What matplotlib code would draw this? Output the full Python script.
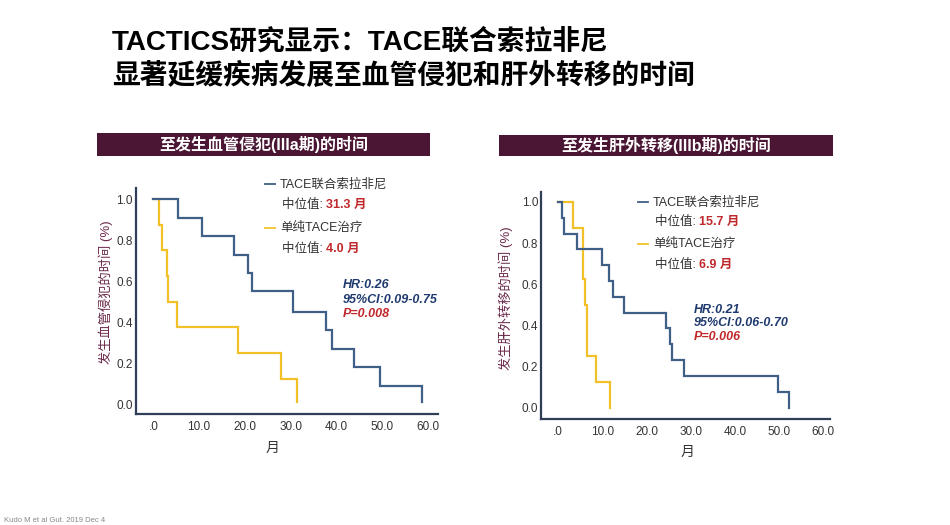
import matplotlib
matplotlib.use("Agg")
import matplotlib.pyplot as plt
from matplotlib.lines import Line2D
from matplotlib.patches import Rectangle

plt.rcParams['font.family'] = ['Liberation Sans', 'Noto Sans CJK SC', 'DejaVu Sans']

# --- data (months, survival fraction) ---
# left panel: time to vascular invasion
left_combo_t = [5.4, 10.7, 17.7, 20.7, 21.5, 30.5, 37.8, 39.1, 43.9, 49.5, 58.7]
left_combo_s = [0.91, 0.82, 0.73, 0.64, 0.55, 0.45, 0.36, 0.27, 0.18, 0.09, 0.01]
left_tace_t = [1.3, 1.8, 2.9, 3.3, 5.1, 18.5, 27.8, 31.4]
left_tace_s = [0.875, 0.75, 0.625, 0.5, 0.375, 0.25, 0.125, 0.01]

# right panel: time to extrahepatic spread
right_combo_t = [0.75, 1.3, 4.15, 10.0, 11.5, 12.5, 14.9, 24.4, 25.3, 25.7, 28.5, 49.7, 52.2]
right_combo_s = [0.923, 0.846, 0.769, 0.692, 0.615, 0.538, 0.462, 0.385, 0.308, 0.231, 0.154, 0.077, 0.0]
right_tace_t = [3.25, 5.6, 5.7, 6.0, 6.4, 6.6, 8.5, 11.8]
right_tace_s = [0.875, 0.75, 0.625, 0.5, 0.375, 0.25, 0.125, 0.0]

x_ticks = [0, 10, 20, 30, 40, 50, 60]
x_tick_labels = ['.0', '10.0', '20.0', '30.0', '40.0', '50.0', '60.0']
y_ticks = [0.0, 0.2, 0.4, 0.6, 0.8, 1.0]
y_tick_labels = ['0.0', '0.2', '0.4', '0.6', '0.8', '1.0']

panel_titles = ['至发生血管侵犯(IIIa期)的时间', '至发生肝外转移(IIIb期)的时间']
y_labels = ['发生血管侵犯的时间 (%)', '发生肝外转移的时间 (%)']
medians_combo = ['31.3 月', '15.7 月']
medians_tace = ['4.0 月', '6.9 月']
hr_text = ['HR:0.26', 'HR:0.21']
ci_text = ['95%CI:0.09-0.75', '95%CI:0.06-0.70']
p_text = ['P=0.008', 'P=0.006']

BLUE = '#3f5f86'
YELLOW = '#f2c12a'
NAVY = '#1f3a6e'
RED = '#c0282b'
BAR = '#4a1633'
SPINE = '#2d3e56'

W, H = 950, 525
fig = plt.figure(figsize=(9.5, 5.25), dpi=100)


def fx(px):
    return px / W


def fy(py):
    return 1 - py / H


def km_curve(ax, t, s, color):
    ax.plot([0] + t, [1.0] + s, drawstyle='steps-post', color=color, lw=1.6,
            solid_joinstyle='miter')


# main title
fig.text(fx(112), fy(42), 'TACTICS研究显示：TACE联合索拉非尼', fontsize=20,
         fontweight='bold', va='center', ha='left', color='black')
fig.text(fx(112), fy(76), '显著延缓疾病发展至血管侵犯和肝外转移的时间', fontsize=20,
         fontweight='bold', va='center', ha='left', color='black')

panels = [
    dict(ax=[135.7, 188, 438, 414], xlim=(-3.85, 62.2), ylim=(-0.047, 1.054),
         bar=(97, 133, 430, 156), data=(left_combo_t, left_combo_s, left_tace_t, left_tace_s),
         leg_x=265, leg_y=[184, 205, 228, 249], hr=(343, 285, 300, 314),
         ylab=(106, 292), xlab=(273, 448)),
    dict(ax=[541, 191.7, 830, 419.3], xlim=(-3.9, 61.5), ylim=(-0.057, 1.05),
         bar=(499, 135, 833, 156), data=(right_combo_t, right_combo_s, right_tace_t, right_tace_s),
         leg_x=638, leg_y=[202, 222, 244, 265], hr=(694, 310, 323, 337),
         ylab=(506, 298), xlab=(688, 452)),
]

for i, p in enumerate(panels):
    x0, y0, x1, y1 = p['ax']
    ax = fig.add_axes([fx(x0), fy(y1), (x1 - x0) / W, (y1 - y0) / H])
    ct, cs, tt, ts = p['data']
    km_curve(ax, tt, ts, YELLOW)
    km_curve(ax, ct, cs, BLUE)
    ax.set_xlim(*p['xlim'])
    ax.set_ylim(*p['ylim'])
    ax.set_xticks(x_ticks)
    ax.set_xticklabels(x_tick_labels)
    ax.set_yticks(y_ticks)
    ax.set_yticklabels(y_tick_labels)
    ax.tick_params(length=0, labelsize=8.5, labelcolor='#333333')
    ax.tick_params(axis='x', pad=5)
    ax.tick_params(axis='y', pad=2)
    for side in ['top', 'right']:
        ax.spines[side].set_visible(False)
    for side in ['left', 'bottom']:
        ax.spines[side].set_color(SPINE)
        ax.spines[side].set_linewidth(1.6)
    ax.patch.set_alpha(0)

    # header bar
    bx0, by0, bx1, by1 = p['bar']
    fig.patches.append(Rectangle((fx(bx0), fy(by1)), (bx1 - bx0) / W, (by1 - by0) / H,
                                 transform=fig.transFigure, facecolor=BAR, edgecolor='none'))
    fig.text(fx((bx0 + bx1) / 2), fy((by0 + by1) / 2), panel_titles[i], color='white',
             fontsize=11.5, fontweight='bold', ha='center', va='center')

    # legend-like text
    lx = p['leg_x']
    ly = p['leg_y']
    fig.lines.append(Line2D([fx(lx), fx(lx + 10)], [fy(ly[0]), fy(ly[0])],
                            transform=fig.transFigure, color=BLUE, lw=1.3))
    fig.lines.append(Line2D([fx(lx), fx(lx + 10)], [fy(ly[2]), fy(ly[2])],
                            transform=fig.transFigure, color=YELLOW, lw=1.3))
    fig.text(fx(lx + 15), fy(ly[0]), 'TACE联合索拉非尼', fontsize=9, color='#333333', va='center')
    fig.text(fx(lx + 15), fy(ly[2]), '单纯TACE治疗', fontsize=9, color='#333333', va='center')
    for yy, med in [(ly[1], medians_combo[i]), (ly[3], medians_tace[i])]:
        t1 = fig.text(fx(lx + 17), fy(yy), '中位值: ', fontsize=9, color='#333333', va='center')
        fig.canvas.draw()
        bb = t1.get_window_extent()
        fig.text(bb.x1 / W, fy(yy), med, fontsize=9, color=RED, fontweight='bold', va='center')

    hx, hy1, hy2, hy3 = p['hr']
    fig.text(fx(hx), fy(hy1), hr_text[i], fontsize=9, color=NAVY, fontweight='bold',
             fontstyle='italic', va='center')
    fig.text(fx(hx), fy(hy2), ci_text[i], fontsize=9, color=NAVY, fontweight='bold',
             fontstyle='italic', va='center')
    fig.text(fx(hx), fy(hy3), p_text[i], fontsize=9, color=RED, fontweight='bold',
             fontstyle='italic', va='center')

    fig.text(fx(p['ylab'][0]), fy(p['ylab'][1]), y_labels[i], rotation=90, fontsize=9.5,
             color='#6b2a4b', ha='center', va='center')
    fig.text(fx(p['xlab'][0]), fy(p['xlab'][1]), '月', fontsize=10, color='#333333',
             ha='center', va='center')

fig.text(fx(4), fy(520), 'Kudo M et al Gut. 2019 Dec 4', fontsize=5.5, color='#888888',
         va='center')

fig.savefig('out.png', dpi=100)
